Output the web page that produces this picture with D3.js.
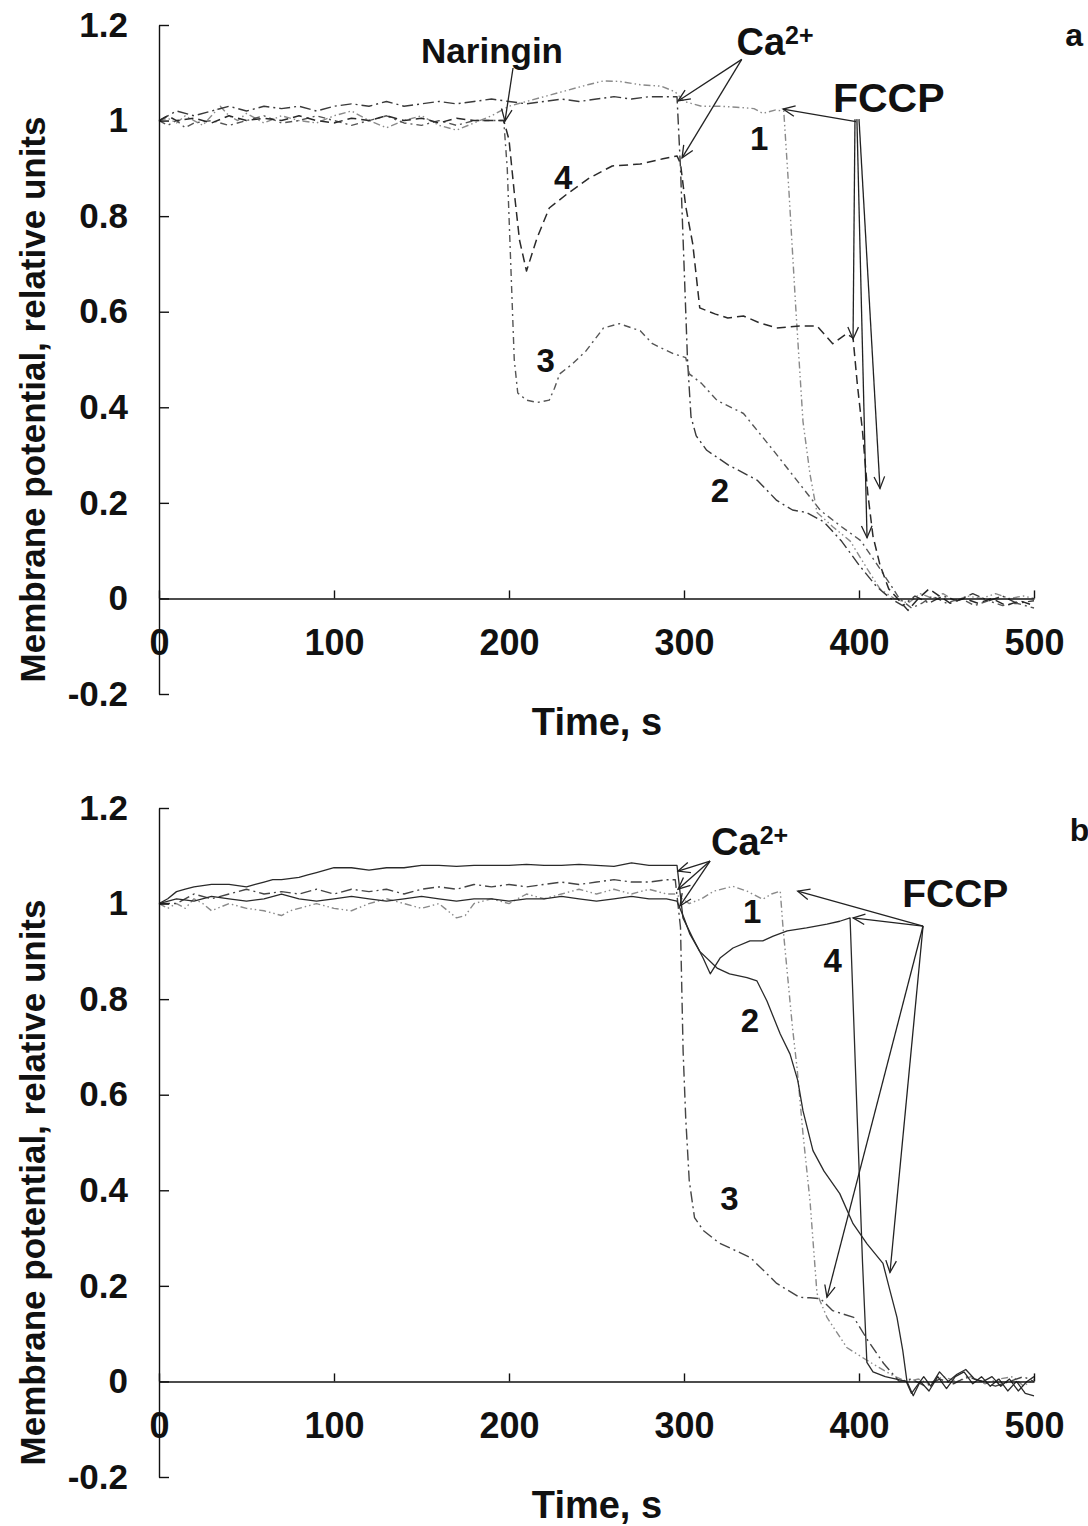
<!DOCTYPE html>
<html>
<head>
<meta charset="utf-8">
<script src="https://cdn.jsdelivr.net/npm/d3@7"></script>
<style>
  html, body { margin: 0; padding: 0; background: #fff; }
  svg { display: block; }
  text { font-family: "Liberation Sans", Arial, sans-serif; font-weight: bold; fill: #111; }
</style>
</head>
<body>
<svg id="chart" width="1088" height="1526"></svg>
<script>
// ---------------- DATA ----------------
const xTicks = [0, 100, 200, 300, 400, 500];
const yTicks = [-0.2, 0, 0.2, 0.4, 0.6, 0.8, 1, 1.2];
const xTitle = "Time, s";
const yTitleA = "Membrane potential, relative units";
const yTitleB = "Membrane potential,  relative units";

// Panel a — [time s, relative potential]
const a1 = [[0,1.0],[5,1.005],[10,0.995],[15,1.01],[20,1.0],[25,0.99],[30,1.01],[35,1.03],[40,1.01],[45,1.0],[50,1.015],[55,1.005],[60,0.995],[70,1.01],[80,1.0],[90,0.995],[100,1.01],[110,1.02],[120,1.0],[130,0.985],[140,1.0],[150,1.01],[160,0.99],[170,0.98],[180,0.995],[190,1.01],[200,1.03],[210,1.04],[220,1.05],[230,1.06],[245,1.075],[254,1.083],[263,1.082],[275,1.075],[287,1.072],[295,1.06],[300,1.04],[310,1.03],[320,1.03],[330,1.028],[340,1.025],[345,1.015],[352,1.022],[357,1.02],[360,0.85],[364,0.6],[368,0.37],[372,0.26],[376,0.18],[385,0.15],[395,0.12],[405,0.06],[412,0.02],[420,0.0],[428,-0.01],[435,0.01],[442,0.0],[448,0.01],[455,-0.005],[462,0.005],[470,0.0],[478,0.01],[486,0.0],[494,0.005],[500,0.0]];
const a2 = [[0,1.0],[5,1.01],[10,1.02],[20,1.01],[30,1.02],[40,1.03],[50,1.02],[60,1.03],[70,1.025],[80,1.03],[90,1.02],[100,1.03],[110,1.035],[120,1.03],[130,1.04],[140,1.03],[150,1.035],[160,1.04],[170,1.035],[180,1.04],[190,1.045],[200,1.04],[210,1.035],[220,1.04],[230,1.045],[240,1.04],[250,1.045],[260,1.05],[270,1.045],[280,1.05],[290,1.05],[296,1.05],[298,0.9],[300,0.7],[302,0.5],[304,0.38],[307,0.34],[313,0.31],[325,0.28],[342,0.247],[353,0.205],[362,0.185],[370,0.18],[380,0.16],[390,0.12],[400,0.07],[410,0.025],[418,0.0],[425,-0.015],[432,0.005],[440,-0.01],[448,0.005],[456,-0.005],[465,0.01],[474,-0.005],[482,0.005],[490,-0.01],[500,-0.005]];
const a3 = [[0,1.0],[5,0.99],[10,1.0],[15,0.985],[20,0.995],[30,1.0],[40,0.99],[50,1.0],[60,1.01],[70,0.995],[80,1.0],[90,1.01],[100,1.0],[110,0.99],[120,1.0],[130,1.01],[140,0.995],[150,0.99],[160,1.0],[170,0.99],[180,1.0],[190,1.0],[197,1.0],[199,0.9],[201,0.7],[203,0.5],[205,0.43],[210,0.415],[216,0.41],[223,0.415],[226,0.44],[229,0.47],[236,0.49],[244,0.518],[254,0.566],[263,0.575],[275,0.56],[282,0.533],[294,0.512],[301,0.504],[303,0.47],[310,0.45],[319,0.414],[334,0.387],[351,0.31],[366,0.24],[378,0.184],[390,0.15],[401,0.121],[410,0.073],[419,0.023],[423,0.0],[430,-0.02],[436,-0.01],[442,0.005],[450,-0.01],[458,0.0],[466,-0.015],[474,-0.005],[482,-0.015],[490,-0.01],[500,-0.02]];
const a4 = [[0,1.0],[5,1.01],[10,1.0],[20,1.005],[30,0.995],[40,1.01],[50,1.0],[60,1.005],[70,1.0],[80,1.01],[90,1.0],[100,0.995],[110,1.005],[120,1.0],[130,1.01],[140,1.0],[150,1.005],[160,0.995],[170,1.005],[180,1.0],[190,1.0],[197,1.0],[200,0.96],[203,0.85],[206,0.75],[210,0.685],[216,0.754],[223,0.817],[233,0.846],[246,0.88],[259,0.905],[275,0.909],[288,0.92],[296,0.926],[298,0.91],[301,0.82],[305,0.742],[309,0.608],[318,0.595],[325,0.587],[334,0.591],[343,0.577],[353,0.566],[366,0.57],[376,0.57],[385,0.533],[393,0.554],[396.6,0.545],[399,0.45],[402,0.35],[405,0.22],[408,0.13],[412,0.07],[417,0.02],[422,0.0],[428,-0.025],[434,0.0],[440,0.02],[446,0.005],[452,-0.01],[460,0.0],[468,-0.01],[476,0.0],[484,-0.015],[492,-0.005],[500,-0.015]];

// Panel b
const b1 = [[0,1.0],[5,0.99],[10,1.0],[15,0.99],[20,1.01],[25,1.0],[30,0.985],[40,1.0],[50,0.99],[60,0.985],[70,0.975],[75,0.985],[80,0.99],[90,1.0],[100,0.99],[110,0.985],[120,1.0],[130,1.01],[140,1.0],[150,0.99],[160,1.0],[165,0.985],[170,0.97],[175,0.975],[180,1.0],[190,1.01],[200,1.0],[210,1.02],[220,1.01],[230,1.02],[240,1.03],[250,1.02],[260,1.03],[270,1.02],[280,1.03],[290,1.02],[295,1.02],[303,1.0],[310,1.01],[317,1.026],[328,1.036],[336,1.026],[345,1.009],[350,1.02],[355,1.026],[356.6,0.949],[362,0.74],[364.6,0.656],[368,0.518],[372,0.378],[376,0.184],[381.7,0.134],[393,0.071],[404.6,0.044],[419,0.013],[427,0.0],[434,0.005],[440,-0.005],[448,0.01],[456,0.0],[464,0.01],[472,-0.005],[480,0.005],[488,0.01],[494,-0.01],[500,0.005]];
const b2 = [[0,1.0],[10,1.01],[20,1.005],[30,1.015],[40,1.01],[50,1.005],[60,1.01],[70,1.02],[80,1.01],[90,1.005],[100,1.01],[110,1.015],[120,1.01],[130,1.005],[140,1.01],[150,1.015],[160,1.01],[170,1.005],[180,1.01],[190,1.01],[200,1.005],[210,1.01],[220,1.01],[230,1.015],[240,1.01],[250,1.005],[260,1.01],[270,1.015],[280,1.01],[290,1.01],[296,1.005],[300,0.97],[303.4,0.936],[309,0.9],[318.9,0.865],[326,0.853],[336,0.845],[341.7,0.838],[347.4,0.796],[355,0.727],[360.6,0.685],[365,0.63],[368,0.566],[373.7,0.483],[380,0.44],[389,0.393],[396.6,0.33],[404.6,0.288],[413.7,0.247],[417.7,0.19],[421.7,0.134],[425,0.065],[427.4,0.0],[431,-0.03],[435,0.0],[440,-0.02],[445,0.01],[450,-0.015],[455,0.01],[460,0.02],[465,-0.005],[470,0.01],[475,-0.01],[480,0.005],[485,-0.02],[490,0.0],[495,-0.025],[500,-0.03]];
const b3 = [[0,1.0],[10,1.0],[20,1.02],[30,1.01],[40,1.02],[50,1.03],[60,1.02],[70,1.025],[80,1.02],[90,1.03],[100,1.02],[110,1.03],[120,1.025],[130,1.03],[140,1.02],[150,1.03],[160,1.035],[170,1.03],[180,1.04],[190,1.035],[200,1.04],[210,1.035],[220,1.04],[230,1.045],[240,1.04],[250,1.045],[260,1.05],[270,1.045],[280,1.045],[290,1.05],[295,1.05],[298,0.95],[299.5,0.69],[301,0.55],[303,0.42],[306,0.343],[311,0.316],[320,0.29],[338,0.259],[353,0.205],[366,0.176],[372,0.175],[378,0.173],[385,0.148],[397,0.134],[405,0.086],[414,0.038],[423,0.0],[430,0.005],[438,-0.01],[446,0.005],[454,-0.005],[462,0.01],[470,0.0],[478,-0.01],[486,0.0],[494,0.01],[500,0.0]];
const b4 = [[0,1.0],[5,1.01],[10,1.025],[15,1.03],[20,1.035],[30,1.04],[40,1.04],[50,1.035],[55,1.04],[60,1.045],[65,1.05],[70,1.05],[80,1.055],[85,1.06],[90,1.065],[95,1.07],[100,1.075],[110,1.075],[120,1.07],[130,1.075],[140,1.075],[150,1.08],[160,1.08],[170,1.078],[180,1.08],[190,1.08],[200,1.08],[210,1.082],[220,1.08],[230,1.08],[240,1.082],[250,1.08],[260,1.078],[270,1.085],[280,1.08],[290,1.08],[296,1.08],[299.4,0.97],[305,0.928],[310.9,0.886],[315,0.853],[320.6,0.886],[328,0.907],[337.7,0.922],[345,0.922],[351,0.932],[359,0.943],[370,0.949],[381.7,0.957],[389,0.963],[394.9,0.97],[399,0.55],[402,0.25],[404.5,0.04],[408,0.02],[415,0.01],[427,0.0],[430,-0.025],[433,-0.01],[437,0.01],[441,-0.01],[446,0.02],[451,0.0],[456,0.015],[461,0.025],[466,0.005],[471,0.0],[476,0.01],[481,-0.01],[486,0.005],[491,-0.02],[496,0.0],[500,0.01]];

// ---------------- LAYOUT ----------------
const svg = d3.select("#chart");
const x = d3.scaleLinear().domain([0, 500]).range([159, 1034]);
const panels = [
  { id: "a", y: d3.scaleLinear().domain([-0.2, 1.2]).range([694, 25]), yTitle: yTitleA,
    series: [
      { data: a1, stroke: "#8a8a8a", dash: "7,3,1.5,3,1.5,3", w: 1.4 },
      { data: a2, stroke: "#3a3a3a", dash: "11,4,2,4", w: 1.4 },
      { data: a3, stroke: "#555", dash: "7,4,2,4", w: 1.4 },
      { data: a4, stroke: "#2a2a2a", dash: "9,5", w: 1.5 }
    ],
    labels: [
      { t: 190.3, v: 1.147, s: "Naringin", size: 35 },
      { t: 343, v: 0.962, s: "1", size: 33 },
      { t: 320.5, v: 0.225, s: "2", size: 33 },
      { t: 221, v: 0.497, s: "3", size: 33 },
      { t: 231, v: 0.88, s: "4", size: 33 },
      { t: 523, v: 1.18, s: "a", size: 32 }
    ],
    ca: { t: 352, v: 1.165 },
    fccp: { t: 417, v: 1.047, size: 41 },
    arrows: [
      [202.3, 1.11, 197.7, 0.999],
      [333, 1.128, 296.6, 1.041],
      [333, 1.128, 298.9, 0.922],
      [398.3, 0.998, 356.6, 1.024],
      [397.7, 1.003, 396.6, 0.543],
      [398.8, 1.003, 404.6, 0.127],
      [400, 1.003, 412, 0.23]
    ]
  },
  { id: "b", y: d3.scaleLinear().domain([-0.2, 1.2]).range([1477, 808]), yTitle: yTitleB,
    series: [
      { data: b1, stroke: "#8a8a8a", dash: "7,3,1.5,3,1.5,3", w: 1.4 },
      { data: b3, stroke: "#444", dash: "11,4,2,4", w: 1.4 },
      { data: b2, stroke: "#2a2a2a", dash: null, w: 1.3 },
      { data: b4, stroke: "#2a2a2a", dash: null, w: 1.3 }
    ],
    labels: [
      { t: 338.9, v: 0.983, s: "1", size: 33 },
      { t: 337.7, v: 0.755, s: "2", size: 33 },
      { t: 326, v: 0.383, s: "3", size: 33 },
      { t: 385, v: 0.881, s: "4", size: 33 },
      { t: 526, v: 1.155, s: "b", size: 32 }
    ],
    ca: { t: 337.5, v: 1.13 },
    fccp: { t: 455, v: 1.022, size: 39 },
    arrows: [
      [314.9, 1.089, 296.6, 1.068],
      [314.9, 1.089, 296.6, 1.03],
      [314.9, 1.089, 297.7, 0.995],
      [436.6, 0.953, 365, 1.026],
      [436.6, 0.953, 396.6, 0.97],
      [436.6, 0.953, 381.7, 0.176],
      [436.6, 0.953, 417.7, 0.228]
    ]
  }
];

function arrow(g, x1, y1, x2, y2) {
  g.append("line").attr("x1", x1).attr("y1", y1).attr("x2", x2).attr("y2", y2)
    .attr("stroke", "#222").attr("stroke-width", 1.3);
  const ang = Math.atan2(y1 - y2, x1 - x2);
  const L = 13, a = 0.42;
  const p = d3.path();
  p.moveTo(x2 + L * Math.cos(ang + a), y2 + L * Math.sin(ang + a));
  p.lineTo(x2, y2);
  p.lineTo(x2 + L * Math.cos(ang - a), y2 + L * Math.sin(ang - a));
  g.append("path").attr("d", p.toString()).attr("fill", "none").attr("stroke", "#222").attr("stroke-width", 1.3);
}

panels.forEach(P => {
  const y = P.y;
  const g = svg.append("g");

  // series
  const line = d3.line().x(d => x(d[0])).y(d => y(d[1]));
  P.series.forEach(s => {
    g.append("path").datum(s.data).attr("d", line)
      .attr("fill", "none").attr("stroke", s.stroke).attr("stroke-width", s.w)
      .attr("stroke-dasharray", s.dash).attr("stroke-linejoin", "round");
  });

  // y axis
  const yAxis = d3.axisLeft(y).tickValues(yTicks).tickSizeInner(-10).tickSizeOuter(0).tickPadding(31)
    .tickFormat(d => String(+d.toFixed(1)));
  const ya = g.append("g").attr("transform", `translate(${x(0)},0)`).call(yAxis);
  ya.select(".domain").attr("stroke", "#111").attr("stroke-width", 1.4);
  ya.selectAll(".tick line").attr("stroke", "#111").attr("stroke-width", 1.4);
  ya.selectAll("text").style("font-size", "35px").attr("fill", "#111");

  // x axis at zero
  const xAxis = d3.axisBottom(x).tickValues(xTicks).tickSizeInner(-8).tickSizeOuter(0).tickPadding(31);
  const xa = g.append("g").attr("transform", `translate(0,${y(0)})`).call(xAxis);
  xa.select(".domain").attr("stroke", "#111").attr("stroke-width", 1.4);
  xa.selectAll(".tick line").attr("stroke", "#111").attr("stroke-width", 1.4);
  xa.selectAll("text").style("font-size", "36px").attr("fill", "#111");

  // titles
  g.append("text").attr("x", 597).attr("y", y(-0.2) + 28).attr("dy", "0.35em")
    .attr("text-anchor", "middle").style("font-size", "38px").text(xTitle);
  const cy = (y(1.2) + y(-0.2)) / 2 + 40;
  g.append("text").attr("transform", `translate(33,${cy}) rotate(-90)`).attr("dy", "0.35em")
    .attr("text-anchor", "middle").style("font-size", "35px").text(P.yTitle);

  // labels
  P.labels.forEach(l => {
    g.append("text").attr("x", x(l.t)).attr("y", y(l.v)).attr("dy", "0.35em")
      .attr("text-anchor", "middle").style("font-size", l.size + "px").text(l.s);
  });
  const ca = g.append("text").attr("x", x(P.ca.t)).attr("y", y(P.ca.v)).attr("dy", "0.35em")
    .attr("text-anchor", "middle").style("font-size", "38px");
  ca.append("tspan").text("Ca");
  ca.append("tspan").attr("dy", "-0.45em").style("font-size", "25px").text("2+");
  g.append("text").attr("x", x(P.fccp.t)).attr("y", y(P.fccp.v)).attr("dy", "0.35em")
    .attr("text-anchor", "middle").style("font-size", P.fccp.size + "px").text("FCCP");

  // arrows
  P.arrows.forEach(a => arrow(g, x(a[0]), y(a[1]), x(a[2]), y(a[3])));
});
</script>
</body>
</html>
